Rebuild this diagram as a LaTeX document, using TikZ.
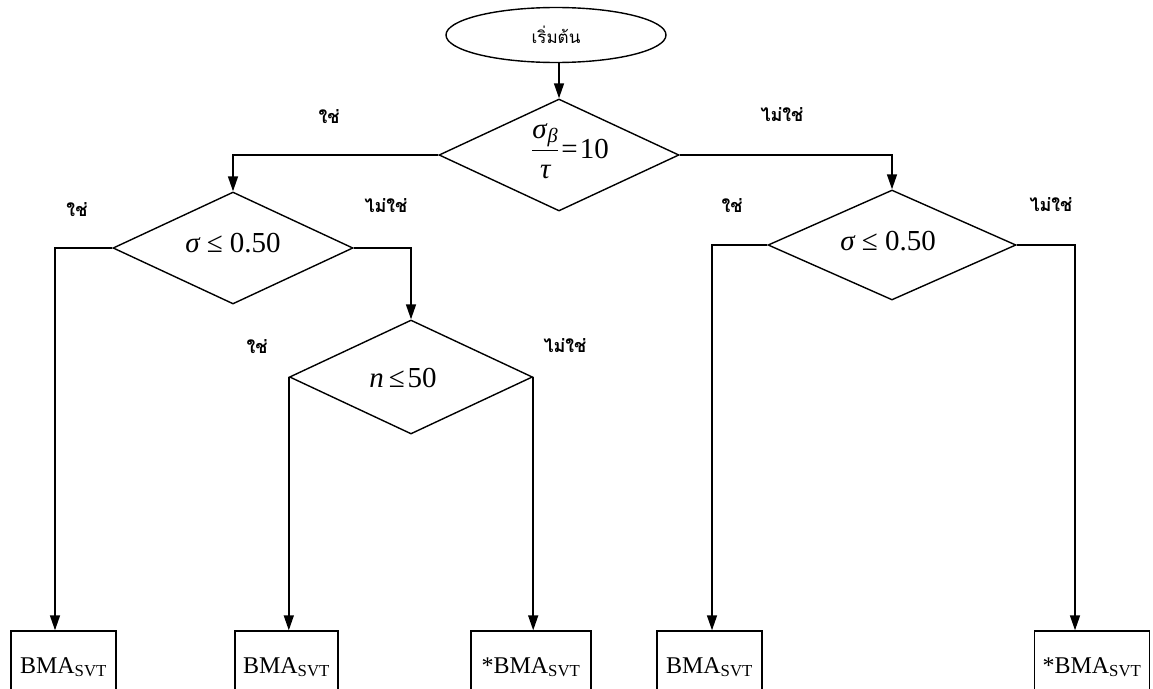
\RequirePackage{fix-cm}
\documentclass[tikz,border=0pt]{standalone}
\usepackage{amsmath}
\usepackage{fontspec}
\setmainfont{Liberation Serif}
\newfontfamily\thai[Script=Thai]{Loma}
\usetikzlibrary{shapes.geometric,arrows.meta,calc}
\tikzset{
  every picture/.style={x=1pt,y=-1pt},
  conn/.style={line width=1.5pt,-{Triangle[length=15pt,width=10pt]}},
  dec/.style={diamond,draw,line width=1.4pt,inner sep=0pt,aspect=2.14,
              minimum width=240pt,minimum height=112pt},
  startbox/.style={ellipse,draw,line width=1.4pt,minimum width=220pt,minimum height=55pt,inner sep=0pt},
  resbox/.style={rectangle,draw,line width=1.4pt,minimum height=72pt,inner sep=0pt,
                 font=\fontsize{24}{28}\selectfont},
  yes/.style={font=\thai\bfseries\fontsize{18}{20}\selectfont},
  mtext/.style={font=\fontsize{29}{34}\selectfont}
}
\newcommand{\gk}[1]{\text{\itshape #1}}
\begin{document}
\begin{tikzpicture}
\clip (0,0) rectangle (1153,688);
\fill[white] (0,0) rectangle (1153,688);

\node[startbox] (e) at (556,35) {\thai\fontsize{17}{20}\selectfont เริ่มต้น};

\node[dec,label={[mtext,xshift=11pt,yshift=4pt]center:$\dfrac{\gk{σ}_{\kern1pt\gk{β}}}{\gk{τ}}$\kern2pt=\kern2pt10}] (d1) at (559,155) {};
\node[dec,label={[mtext,yshift=5pt]center:{\itshape σ} ≤ 0.50}] (d2) at (233,248) {};
\node[dec,minimum width=248pt,minimum height=110pt,label={[mtext,yshift=4pt,xshift=-4pt]center:{\itshape σ} ≤ 0.50}] (d3) at (892,245) {};
\node[dec,minimum width=243pt,minimum height=114pt,label={[mtext,yshift=-1pt,xshift=-8pt]center:{\itshape n}\kern5pt≤\kern3pt50}] (d4) at (411,377) {};

\node[resbox,minimum width=105pt] (b1) at (63.5,667) {BMA$_{\text{SVT}}$};
\node[resbox,minimum width=103pt] (b2) at (286.5,667) {BMA$_{\text{SVT}}$};
\node[resbox,minimum width=120pt] (b3) at (531,667) {*BMA$_{\text{SVT}}$};
\node[resbox,minimum width=105pt] (b4) at (709.5,667) {BMA$_{\text{SVT}}$};
\node[resbox,minimum width=115pt] (b5) at (1092,667) {*BMA$_{\text{SVT}}$};

\draw[conn] (d1.north |- e.south) -- (d1.north);
\draw[conn] (d1.west) -| (d2.north);
\draw[conn] (d1.east) -| (d3.north);
\draw[conn] (d2.west) -| ([xshift=-8.5pt]b1.north);
\draw[conn] (d2.east) -| (d4.north);
\draw[conn] (d4.west) -- (d4.west |- b2.north);
\draw[conn] (d4.east) -- (d4.east |- b3.north);
\draw[conn] (d3.west) -| ([xshift=2.5pt]b4.north);
\draw[conn] (d3.east) -| ([xshift=-17pt]b5.north);

\node[yes] (l1) at (329,117) {ใช่};
\node[yes] (l2) at (782,115) {ไม่ใช่};
\node[yes] (l3) at (77,210) {ใช่};
\node[yes] (l4) at (386,206) {ไม่ใช่};
\node[yes] (l5) at (732,206) {ใช่};
\node[yes] (l6) at (1051,205) {ไม่ใช่};
\node[yes] (l7) at (257,347) {ใช่};
\node[yes] (l8) at (565,346) {ไม่ใช่};
\end{tikzpicture}
\end{document}
